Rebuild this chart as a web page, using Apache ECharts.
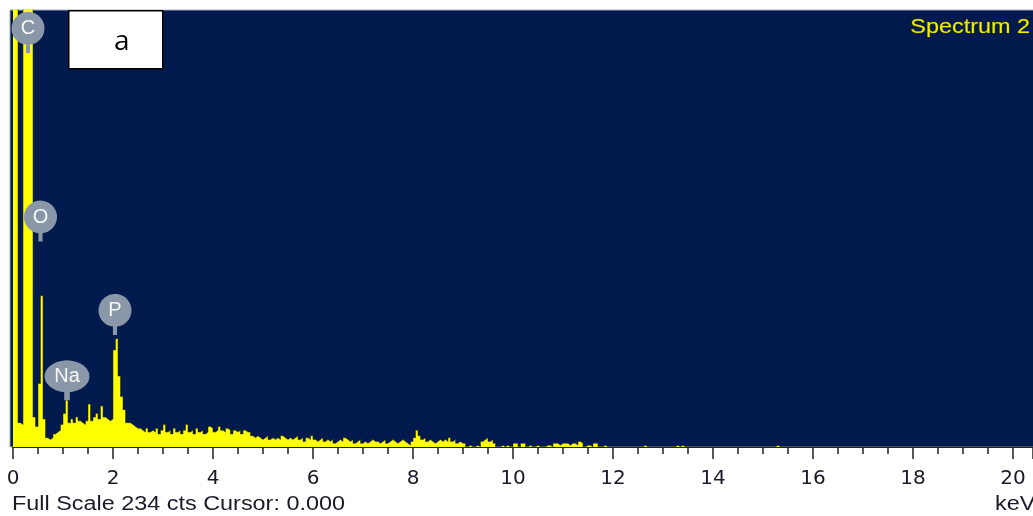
<!DOCTYPE html>
<html>
<head>
<meta charset="utf-8">
<script src="https://cdn.jsdelivr.net/npm/echarts@6/dist/echarts.min.js"></script>
<style>
  html, body { margin: 0; padding: 0; background: #ffffff; }
  #chart { width: 1033px; height: 516px; }
</style>
</head>
<body>
<div id="chart"></div>
<script>
// EDS spectrum: counts per 0.05 keV channel, 0 – 12 keV
const channelWidth = 0.05; // keV
const counts = [
  400, 400, 13, 12, 300, 400, 400, 300, 16, 11,   // 0.00 – 0.45
  34, 81, 15, 5, 4, 5, 7, 8, 9, 12,               // 0.50 – 0.95
  18, 25, 13, 15, 13, 16, 14, 13, 12, 14,         // 1.00 – 1.45
  23, 14, 16, 18, 15, 22, 16, 15, 14, 15,         // 1.50 – 1.95
  52, 58, 38, 27, 20, 13, 13, 12, 11, 10,         // 2.00 – 2.45
  10, 9, 8, 10, 8, 9, 8, 10, 7, 9,                // 2.50 – 2.95
  12, 8, 9, 7, 10, 8, 9, 7, 9, 12,                // 3.00 – 3.45
  8, 9, 7, 10, 8, 9, 7, 8, 11, 10,                // 3.50 – 3.95
  8, 9, 11, 9, 8, 10, 9, 7, 9, 8,                 // 4.00 – 4.45
  9, 7, 9, 8, 8, 6, 5, 6, 5, 4,                   // 4.50 – 4.95
  5, 6, 4, 5, 4, 5, 4, 6, 5, 4,                   // 5.00 – 5.45
  5, 4, 5, 6, 4, 5, 3, 5, 4, 6,                   // 5.50 – 5.95
  4, 3, 4, 5, 3, 4, 3, 4, 2, 3,                   // 6.00 – 6.45
  4, 3, 5, 4, 3, 4, 2, 3, 4, 2,                   // 6.50 – 6.95
  3, 2, 3, 4, 3, 3, 2, 3, 4, 2,                   // 7.00 – 7.45
  3, 4, 3, 2, 3, 4, 3, 2, 1, 3,                   // 7.50 – 7.95
  5, 9, 6, 4, 5, 3, 4, 3, 2, 3,                   // 8.00 – 8.45
  4, 3, 4, 3, 5, 3, 4, 2, 3, 2,                   // 8.50 – 8.95
  2, 0, 1, 0, 0, 1, 0, 3, 4, 5,                   // 9.00 – 9.45
  3, 4, 2, 0, 0, 1, 0, 1, 0, 0,                   // 9.50 – 9.95
  2, 2, 0, 2, 2, 0, 1, 0, 0, 1,                   // 10.00 – 10.45
  0, 0, 0, 1, 1, 0, 2, 2, 1, 2,                   // 10.50 – 10.95
  2, 2, 1, 2, 2, 1, 3, 2, 0, 1,                   // 11.00 – 11.45
  1, 0, 2, 2, 0, 0, 1, 0, 0, 0                    // 11.50 – 11.95
];
// isolated single counts above 12 keV: [channel start keV, counts]
const tailCounts = [[12.6, 1], [13.25, 1], [13.35, 1], [15.25, 1]];

// identified element lines: [element, energy keV, marker tip counts]
const elementLines = [
  ['C', 0.30, 211],
  ['O', 0.55, 110],
  ['Na', 1.08, 25],
  ['P', 2.04, 60]
];

const fullScale = 234;     // cts
const energyMax = 20.4;    // keV shown across the frame
const cursor = '0.000';
const spectrumName = 'Spectrum 2';
const panelTag = 'a';

// assemble the channel list across the whole energy range
const nChannels = Math.ceil(20.6 / channelWidth);
const spectrum = [];
for (let i = 0; i < nChannels; i++) {
  const v = i < counts.length ? counts[i] : 0;
  spectrum.push([+(i * channelWidth).toFixed(2), v]);
}
tailCounts.forEach(([e, c]) => {
  spectrum[Math.round(e / channelWidth)][1] = c;
});

const NAVY = '#011a4e';
const YELLOW = '#ffff00';
const TEXT_FONT = '"Liberation Sans", Arial, sans-serif';
const AXIS_FONT = '"DejaVu Sans", sans-serif';
const STRETCH = 1.17; // horizontal stretch of the instrument's caption text

// balloon marker: circle with a short stem, tip at the bottom
const balloon = 'path://M14 40L14 31.87A16 16 0 1 1 18 31.87L18 40Z';

const chart = echarts.init(document.getElementById('chart'), null, { renderer: 'canvas' });

chart.setOption({
  animation: false,
  backgroundColor: '#ffffff',
  grid: { left: 13, right: 0, top: 10, bottom: 69, containLabel: false },
  graphic: [
    {
      type: 'rect', z: -10, silent: true,
      shape: { x: 10, y: 10, width: 1030, height: 437 },
      style: { fill: NAVY, stroke: '#a3abbb', lineWidth: 1 }
    },
    {
      type: 'group', z: 100, left: 68, top: 10,
      children: [
        { type: 'rect', shape: { x: 0, y: 0, width: 94, height: 58 },
          style: { fill: '#ffffff', stroke: '#000000', lineWidth: 1.5 } },
        { type: 'text', x: 53, y: 31,
          style: { text: panelTag, font: '28px "Open Sans", sans-serif', fill: '#000000',
                   align: 'center', verticalAlign: 'middle' } }
      ]
    },
    {
      type: 'text', z: 100, x: 1030, y: 27, scaleX: STRETCH,
      style: { text: spectrumName, font: '20px ' + TEXT_FONT, fill: '#eeee00',
               stroke: '#3a3a10', lineWidth: 1, align: 'right', verticalAlign: 'middle' }
    },
    {
      type: 'text', z: 100, x: 12, y: 504, scaleX: STRETCH,
      style: { text: 'Full Scale ' + fullScale + ' cts Cursor: ' + cursor,
               font: '20px ' + TEXT_FONT, fill: '#1a1a2a', verticalAlign: 'middle' }
    },
    {
      type: 'text', z: 100, x: 995, y: 504, scaleX: STRETCH,
      style: { text: 'keV', font: '20px ' + TEXT_FONT, fill: '#1a1a2a', verticalAlign: 'middle' }
    }
  ],
  xAxis: {
    type: 'value',
    min: 0,
    max: energyMax,
    interval: 2,
    axisLine: { show: true, onZero: false, lineStyle: { color: '#222222', width: 1 } },
    axisTick: { show: true, length: 12, lineStyle: { color: '#222222', width: 1.5 } },
    minorTick: { show: true, splitNumber: 4, length: 7, lineStyle: { color: '#222222', width: 1.5 } },
    splitLine: { show: false },
    axisLabel: {
      margin: 22, fontSize: 20, fontFamily: AXIS_FONT, color: '#1a1a2a',
      showMaxLabel: false,
      formatter: v => (Math.abs(v - Math.round(v)) < 1e-6 ? String(Math.round(v)) : '')
    }
  },
  yAxis: {
    type: 'value', min: 0, max: fullScale, show: false,
    splitLine: { show: false }
  },
  series: [
    {
      type: 'line',
      step: 'end',
      data: spectrum,
      showSymbol: false,
      clip: true,
      lineStyle: { color: 'rgba(50,50,0,0.55)', width: 1 },
      areaStyle: { color: YELLOW, opacity: 1 },
      z: 2,
      markPoint: {
        symbol: balloon,
        symbolSize: [33, 41],
        symbolOffset: [0, '-50%'],
        silent: true,
        itemStyle: { color: '#8a97a8' },
        label: {
          show: true, position: 'inside', offset: [0, -4],
          fontSize: 20, fontFamily: TEXT_FONT, color: '#f6f6f6',
          formatter: p => p.name
        },
        data: elementLines.map(([el, e, c]) => ({
          name: el, coord: [e, c],
          symbolSize: el.length > 1 ? [45, 40] : [33, 41]
        }))
      }
    }
  ]
});
</script>
</body>
</html>
